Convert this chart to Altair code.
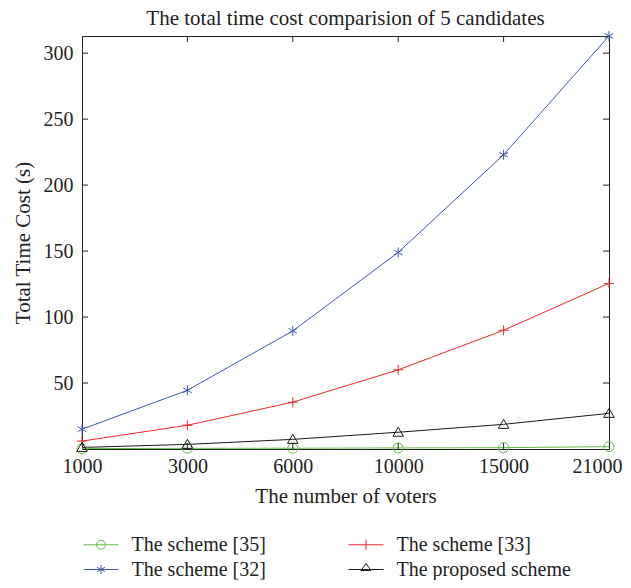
import altair as alt
import pandas as pd

voters = ["1000", "3000", "6000", "10000", "15000", "21000"]
s35 = [0.3, 0.5, 0.6, 0.8, 1.0, 1.8]
s33 = [6, 18, 35.5, 60, 90, 125.5]
s32 = [15, 44.5, 89.5, 149, 223, 313]
prop = [1.2, 3.5, 7.3, 12.7, 18.7, 27]

# order chosen so that the 2-column legend reads like the reference
names = ["The scheme [35]", "The scheme [32]", "The scheme [33]", "The proposed scheme"]
values = [s35, s32, s33, prop]
colors = ["#66bb4a", "#3c5aa8", "#f0262b", "#1a1a1a"]

marker_paths = [
    "M1,0A1,1 0 1,1 -1,0A1,1 0 1,1 1,0Z",
    "M0,-1V1M-0.87,-0.5L0.87,0.5M-0.87,0.5L0.87,-0.5",
    "M0,-1V1M-1,0H1",
    "M0,-1L1.05,0.8H-1.05Z",
]
legend_paths = [
    "M-1.75,0H1.75M0.45,0A0.45,0.45 0 1,1 -0.45,0A0.45,0.45 0 1,1 0.45,0Z",
    "M-1.75,0H1.75M0,-0.45V0.45M-0.39,-0.22L0.39,0.22M-0.39,0.22L0.39,-0.22",
    "M-1.75,0H1.75M0,-0.52V0.52",
    "M-1.75,0H1.75M0,-0.6L0.5,0.1H-0.5Z",
]

y_ticks = [50, 100, 150, 200, 250, 300]
x_inner_ticks = ["3000", "6000", "10000", "15000"]

rows = []
for n, vals in zip(names, values):
    for v, t in zip(voters, vals):
        rows.append({"voters": v, "time": t, "series": n})
df = pd.DataFrame(rows)

W, H = 527, 413
FONT = "Liberation Serif"
TXT = "#222222"

x_enc = alt.X("voters:O", sort=voters,
              scale=alt.Scale(type="point", padding=0),
              axis=alt.Axis(
                  title="The number of voters", labelAngle=0,
                  labelOffset={"condition": {"test": "datum.value == '21000'", "value": -12},
                               "value": 0},
              ))
y_enc = alt.Y("time:Q", scale=alt.Scale(domain=[0, 313], nice=False),
              axis=alt.Axis(title="Total Time Cost (s)", values=y_ticks))

color_scale = alt.Scale(domain=names, range=colors)

base = alt.Chart(df)

lines = base.mark_line(strokeWidth=1).encode(
    x=x_enc, y=y_enc,
    color=alt.Color("series:N", scale=color_scale, legend=None),
)

points = base.mark_point(filled=False, size=100, strokeWidth=1, opacity=1).encode(
    x=x_enc, y=y_enc,
    color=alt.Color("series:N", scale=color_scale, legend=None),
    shape=alt.Shape("series:N", scale=alt.Scale(domain=names, range=marker_paths), legend=None),
)

leg = alt.Legend(
    title=None, orient="none", legendX=8.5, legendY=498, columns=2,
    columnPadding=80, rowPadding=4, padding=0,
    symbolSize=400, symbolStrokeWidth=1, symbolType="circle",
    labelFont=FONT, labelFontSize=20, labelColor=TXT, labelOffset=20,
    labelLimit=400, symbolOpacity=1,
)
legend_layer = base.transform_filter("false").mark_point(filled=False, strokeWidth=1).encode(
    x=x_enc, y=y_enc,
    color=alt.Color("series:N", scale=color_scale, legend=leg),
    shape=alt.Shape("series:N", scale=alt.Scale(domain=names, range=legend_paths), legend=leg),
)

ydf = pd.DataFrame({"time": y_ticks})
xdf = pd.DataFrame({"voters": x_inner_ticks})
tick_style = dict(color="#222222", strokeWidth=1)
yt_left = alt.Chart(ydf).mark_rule(**tick_style).encode(
    y=alt.Y("time:Q"), x=alt.value(0), x2=alt.value(6))
yt_right = alt.Chart(ydf).mark_rule(**tick_style).encode(
    y=alt.Y("time:Q"), x=alt.value(W - 6), x2=alt.value(W))
xt_bottom = alt.Chart(xdf).mark_rule(**tick_style).encode(
    x=alt.X("voters:O", sort=voters), y=alt.value(H - 6), y2=alt.value(H))
xt_top = alt.Chart(xdf).mark_rule(**tick_style).encode(
    x=alt.X("voters:O", sort=voters), y=alt.value(0), y2=alt.value(6))

chart = alt.layer(
    lines, points, legend_layer, yt_left, yt_right, xt_bottom, xt_top
).resolve_scale(
    color="independent", shape="independent"
).properties(
    width=W, height=H,
    title=alt.TitleParams("The total time cost comparision of 5 candidates",
                          font=FONT, fontSize=21, fontWeight="normal",
                          color=TXT, offset=0, anchor="middle"),
    autosize=alt.AutoSizeParams(type="none"),
    padding={"left": 74, "top": 28, "right": 14, "bottom": 131},
).configure_view(
    stroke="#222222", strokeWidth=1
).configure_axis(
    ticks=False, domain=False, grid=False,
    labelFont=FONT, labelFontSize=20, labelColor=TXT,
    titleFont=FONT, titleFontSize=21, titleFontWeight="normal", titleColor=TXT,
).configure_axisX(
    labelPadding=7, titlePadding=9,
).configure_axisY(
    labelPadding=9, titlePadding=10,
)

chart.save("out.html", embed_options={"renderer": "svg", "actions": False})
